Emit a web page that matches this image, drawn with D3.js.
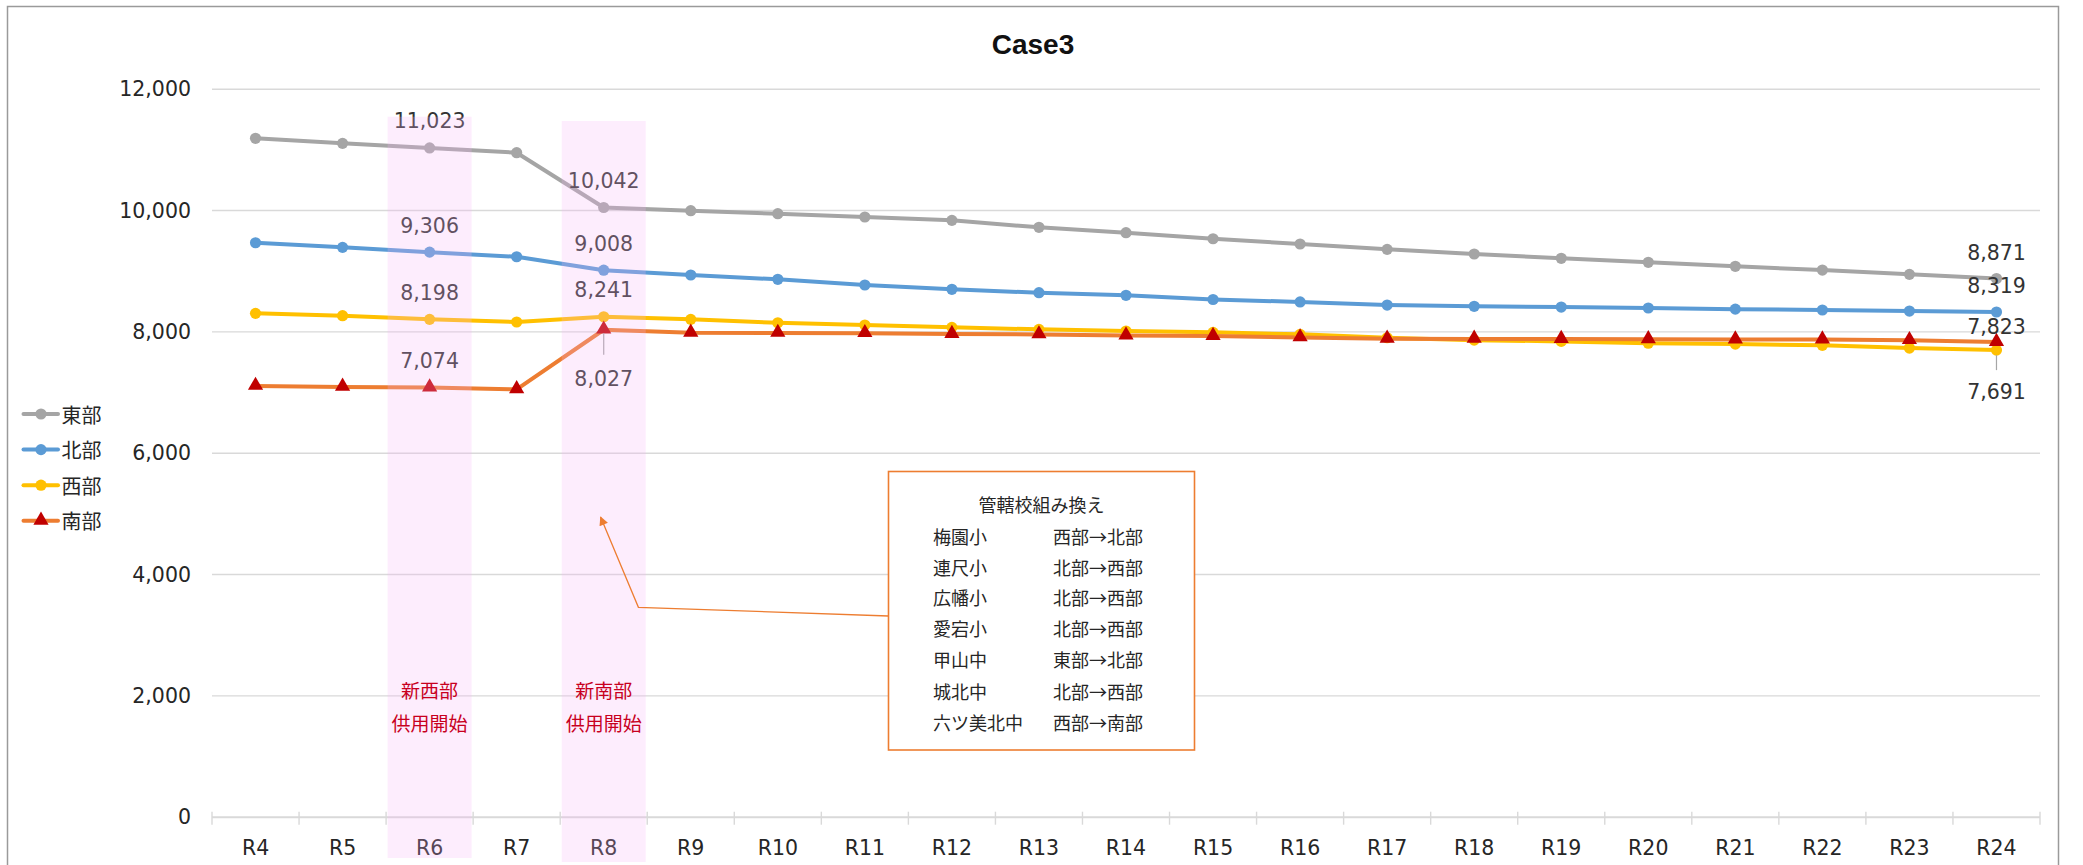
<!DOCTYPE html>
<html>
<head>
<meta charset="utf-8">
<script src="https://cdn.jsdelivr.net/npm/d3@7"></script>
<style>
  html, body { margin: 0; padding: 0; background: #ffffff; }
  svg { display: block; }
</style>
</head>
<body>
<svg id="chart" width="2083" height="865"></svg>
<script>
// ---- data ----
const categories = ["R4","R5","R6","R7","R8","R9","R10","R11","R12","R13","R14",
                    "R15","R16","R17","R18","R19","R20","R21","R22","R23","R24"];
const seriesNames = ["東部", "北部", "西部", "南部"];
const eastValues  = [11182, 11099, 11023, 10945, 10042, 9989, 9940, 9885, 9830, 9715, 9626,
                     9527, 9440, 9352, 9275, 9204, 9138, 9072, 9011, 8940, 8871];
const northValues = [9461, 9385, 9306, 9230, 9008, 8929, 8858, 8764, 8693, 8637, 8594,
                     8525, 8485, 8434, 8413, 8401, 8385, 8366, 8352, 8335, 8319];
const westValues  = [8297, 8258, 8198, 8154, 8241, 8198, 8142, 8104, 8066, 8033, 8005,
                     7984, 7951, 7895, 7855, 7835, 7805, 7790, 7770, 7725, 7691];
const southValues = [7100, 7085, 7074, 7045, 8027, 7976, 7974, 7970, 7955, 7950, 7932,
                     7922, 7900, 7878, 7876, 7874, 7870, 7866, 7864, 7855, 7823];
const yTickValues = [0, 2000, 4000, 6000, 8000, 10000, 12000];
const labelledCategories = ["R6", "R8", "R24"];
const highlightCategories = ["R6", "R8"];
const highlightNotes = [["新西部", "供用開始"], ["新南部", "供用開始"]];
const chartTitle = "Case3";
const calloutTitle = "管轄校組み換え";
const transferSchools = ["梅園小", "連尺小", "広幡小", "愛宕小", "甲山中", "城北中", "六ツ美北中"];
const transferMoves = ["西部→北部", "北部→西部", "北部→西部", "北部→西部", "東部→北部", "北部→西部", "西部→南部"];

// ---- styles ----
const seriesValues = [eastValues, northValues, westValues, southValues];
const lineColors = ["#a5a5a5", "#5b9bd5", "#ffc000", "#ed7d31"];
const markerColors = ["#a5a5a5", "#5b9bd5", "#ffc000", "#c00000"];
const markerShapes = ["circle", "circle", "circle", "triangle"];
const numFont = "'DejaVu Sans', Verdana, sans-serif";
const jpFont = "'Noto Sans CJK JP', 'Noto Sans', sans-serif";

const svg = d3.select("#chart");
const plot = { left: 212, right: 2040, top: 88.7, bottom: 816.7 };

const x = d3.scaleBand().domain(categories).range([plot.left, plot.right]).paddingInner(0).paddingOuter(0);
const y = d3.scaleLinear().domain([0, 12000]).range([plot.bottom, plot.top]);
const cx = c => x(c) + x.bandwidth() / 2;

// chart frame
svg.append("rect")
  .attr("x", 7.5).attr("y", 6.5).attr("width", 2051).attr("height", 900)
  .attr("fill", "#ffffff").attr("stroke", "#9a9a9a").attr("stroke-width", 1.5);

// title
svg.append("text")
  .attr("x", 1033).attr("y", 53.5)
  .attr("text-anchor", "middle")
  .attr("font-family", "'Liberation Sans', Arial, sans-serif")
  .attr("font-weight", "bold").attr("font-size", 28)
  .attr("fill", "#111")
  .text(chartTitle);

// horizontal gridlines + y tick labels
const yAxis = d3.axisLeft(y).tickValues(yTickValues)
  .tickSize(-(plot.right - plot.left)).tickPadding(21)
  .tickFormat(d3.format(","));
const gy = svg.append("g").attr("transform", `translate(${plot.left},0)`).call(yAxis);
gy.select(".domain").remove();
gy.selectAll(".tick line").attr("stroke", "#d9d9d9").attr("stroke-width", 1.4)
  .filter(d => d === 0).attr("stroke-width", 2);
gy.selectAll(".tick text")
  .attr("font-family", numFont).attr("font-size", 20.5).attr("fill", "#262626")
  .attr("dy", null).attr("dominant-baseline", "central");

// category axis labels
const xAxis = d3.axisBottom(x).tickSize(0).tickPadding(0);
const gx = svg.append("g").attr("transform", `translate(0,${plot.bottom})`).call(xAxis);
gx.select(".domain").remove();
gx.selectAll(".tick text")
  .attr("y", 38.8).attr("dy", null)
  .attr("font-family", numFont).attr("font-size", 20.5).attr("fill", "#262626");

// tick marks between categories
const edges = categories.map(c => x(c)).concat([x(categories[categories.length - 1]) + x.bandwidth()]);
svg.append("g").selectAll("line").data(edges).join("line")
  .attr("x1", d => d).attr("x2", d => d)
  .attr("y1", plot.bottom - 5).attr("y2", plot.bottom + 8)
  .attr("stroke", "#d9d9d9").attr("stroke-width", 1.4);

// series lines and markers
const lineGen = d3.line().x((d, i) => cx(categories[i])).y(d => y(d));
const triangle = d3.symbol().type(d3.symbolTriangle).size(100);

seriesValues.forEach((vals, s) => {
  svg.append("path").datum(vals)
    .attr("d", lineGen)
    .attr("fill", "none")
    .attr("stroke", lineColors[s]).attr("stroke-width", 4)
    .attr("stroke-linejoin", "round").attr("stroke-linecap", "round");
});
seriesValues.forEach((vals, s) => {
  const g = svg.append("g");
  if (markerShapes[s] === "circle") {
    g.selectAll("circle").data(vals).join("circle")
      .attr("cx", (d, i) => cx(categories[i])).attr("cy", d => y(d))
      .attr("r", 5.6).attr("fill", markerColors[s]);
  } else {
    g.selectAll("path").data(vals).join("path")
      .attr("d", triangle)
      .attr("transform", (d, i) => `translate(${cx(categories[i])},${y(d) - 0.5})`)
      .attr("fill", markerColors[s]);
  }
});

// value labels: vertical offset from the point for each label centre
const labelOffset = (s, c) => {
  if (c === "R8" && s === 3) return 49;
  if (c === "R24" && s === 2) return 41.7;
  if (c === "R24" && s === 3) return -15.5;
  if (c === "R24") return -26.4;
  return -27;
};
const leaderLines = { "3-R8": [3.5, 25], "2-R24": [5, 20] };
const fmt = d3.format(",");
seriesValues.forEach((vals, s) => {
  labelledCategories.forEach(c => {
    const i = categories.indexOf(c);
    const v = vals[i];
    const px = cx(c), py = y(v);
    const ll = leaderLines[`${s}-${c}`];
    if (ll) {
      svg.append("line")
        .attr("x1", px).attr("x2", px)
        .attr("y1", py + ll[0]).attr("y2", py + ll[1])
        .attr("stroke", "#a6a6a6").attr("stroke-width", 1.2);
    }
    svg.append("text")
      .attr("x", px).attr("y", py + labelOffset(s, c) + 7.5)
      .attr("text-anchor", "middle")
      .attr("font-family", numFont).attr("font-size", 20.5)
      .attr("fill", "#333333")
      .text(fmt(v));
  });
});

// highlighted years: translucent bands with notes
const bandBoxes = [{ top: 116.7, bottom: 858 }, { top: 121, bottom: 862 }];
highlightCategories.forEach((c, k) => {
  svg.append("rect")
    .attr("x", cx(c) - 42).attr("width", 84)
    .attr("y", bandBoxes[k].top).attr("height", bandBoxes[k].bottom - bandBoxes[k].top)
    .attr("fill", "#f5b4f5").attr("fill-opacity", 0.24);
  highlightNotes[k].forEach((t, j) => {
    svg.append("text")
      .attr("x", cx(c)).attr("y", 689.5 + j * 33)
      .attr("text-anchor", "middle").attr("dominant-baseline", "central")
      .attr("font-family", jpFont).attr("font-size", 19)
      .attr("fill", "#c8001e")
      .text(t);
  });
});

// callout with arrow
const defs = svg.append("defs");
defs.append("marker")
  .attr("id", "arrowHead").attr("viewBox", "0 0 10 10")
  .attr("refX", 9).attr("refY", 5)
  .attr("markerWidth", 11).attr("markerHeight", 9)
  .attr("markerUnits", "userSpaceOnUse")
  .attr("orient", "auto")
  .append("path").attr("d", "M0,0 L10,5 L0,10 Z").attr("fill", "#ed7d31");

const box = { x: 888.5, y: 471.5, w: 306, h: 278.5 };
svg.append("path")
  .attr("d", d3.line()([[box.x, 616], [638.4, 607.3], [600.6, 517]]))
  .attr("fill", "none").attr("stroke", "#ed7d31").attr("stroke-width", 1.3)
  .attr("marker-end", "url(#arrowHead)");

svg.append("rect")
  .attr("x", box.x).attr("y", box.y).attr("width", box.w).attr("height", box.h)
  .attr("fill", "#ffffff").attr("stroke", "#ed7d31").attr("stroke-width", 1.6);

svg.append("text")
  .attr("x", 1041.5).attr("y", 503.5)
  .attr("text-anchor", "middle").attr("dominant-baseline", "central")
  .attr("font-family", jpFont).attr("font-size", 18).attr("fill", "#262626")
  .text(calloutTitle);

const rowY = [536, 566.5, 597, 628, 658.5, 690.5, 721.5];
transferSchools.forEach((t, i) => {
  svg.append("text")
    .attr("x", 933).attr("y", rowY[i])
    .attr("dominant-baseline", "central")
    .attr("font-family", jpFont).attr("font-size", 18).attr("fill", "#262626")
    .text(t);
  svg.append("text")
    .attr("x", 1053).attr("y", rowY[i])
    .attr("dominant-baseline", "central")
    .attr("font-family", jpFont).attr("font-size", 18).attr("fill", "#262626")
    .text(transferMoves[i]);
});

// legend
const legend = svg.append("g");
seriesNames.forEach((name, s) => {
  const ly = 414 + s * 35.6;
  legend.append("line")
    .attr("x1", 23.5).attr("x2", 58).attr("y1", ly).attr("y2", ly)
    .attr("stroke", lineColors[s]).attr("stroke-width", 4).attr("stroke-linecap", "round");
  if (markerShapes[s] === "circle") {
    legend.append("circle").attr("cx", 41).attr("cy", ly).attr("r", 5.6).attr("fill", markerColors[s]);
  } else {
    legend.append("path").attr("d", triangle)
      .attr("transform", `translate(41,${ly - 0.5})`).attr("fill", markerColors[s]);
  }
  legend.append("text")
    .attr("x", 61.5).attr("y", ly)
    .attr("dominant-baseline", "central")
    .attr("font-family", jpFont).attr("font-size", 20).attr("fill", "#262626")
    .text(name);
});
</script>
</body>
</html>
